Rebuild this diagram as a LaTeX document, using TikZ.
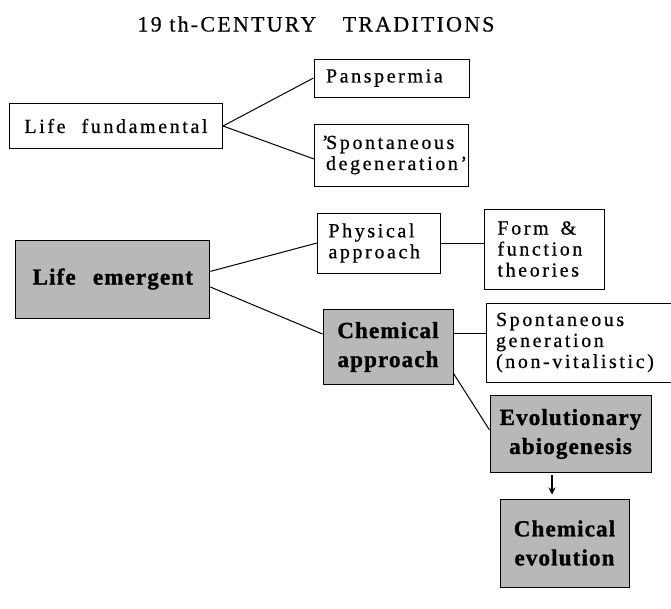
\documentclass[tikz,border=0pt]{standalone}
\usepackage{fontspec}
\setmainfont{Liberation Serif}
\newfontfamily\regf[LetterSpace=13,FakeBold=0.6]{Liberation Serif}
\newfontfamily\heavyf[LetterSpace=5,FakeBold=1.2]{Liberation Serif Bold}
\newfontfamily\titlef[LetterSpace=10,FakeBold=0.4]{Liberation Serif}
\usetikzlibrary{arrows.meta}
\definecolor{halftone}{gray}{0.72}
\begin{document}
\begin{tikzpicture}[x=1pt,y=-1pt,
  wbox/.style={draw, line width=1pt, inner sep=0pt, font=\regf\fontsize{20}{21}\selectfont},
  gbox/.style={draw, line width=1pt, fill=halftone, inner sep=0pt, align=center, font=\heavyf\fontsize{23}{29}\selectfont},
  link/.style={line width=1pt}]
\useasboundingbox (0,0) rectangle (671,608);
\node[font=\titlef\fontsize{22}{24}\selectfont] (title) at (316,24) {19 th-CENTURY\hspace{1.2em}TRADITIONS};
\node[wbox, minimum width=213pt, minimum height=44.5pt, align=center] (lf) at (116,126) {Life\hspace{0.8em}fundamental};
\node[wbox, text width=131pt, inner xsep=12pt, minimum height=38pt, align=left] (pan) at (391.5,78) {Panspermia};
\node[wbox, text width=139pt, inner xsep=7.5pt, minimum height=62pt, align=left] (sd) at (391.5,155) {’\kern-2.5pt Spontaneous\\\hspace*{4pt}degeneration’};
\node[gbox, minimum width=194pt, minimum height=78pt] (le) at (112.8,279) {Life\hspace{0.75em}emergent};
\node[wbox, text width=101pt, inner xsep=11pt, minimum height=60pt, align=left] (ph) at (379,243) {Physical\\approach};
\node[wbox, text width=93pt, inner xsep=13.5pt, minimum height=80pt, align=left] (ff) at (544,249) {Form\hspace{0.6em}\&\\function\\theories};
\node[gbox, minimum width=130pt, minimum height=75pt] (ca) at (388,347) {Chemical\\approach};
\node[wbox, text width=170pt, inner xsep=10pt, minimum height=79pt, align=left] (sg) at (581,342.5) {Spontaneous\\generation\\(non-vitalistic)};
\node[gbox, minimum width=161pt, minimum height=77pt] (ev) at (570.5,434) {Evolutionary\\abiogenesis};
\node[gbox, minimum width=129pt, minimum height=88pt] (ce) at (564.5,543) {Chemical\\evolution};
\draw[link] (lf.east) -- (pan.west);
\draw[link] (lf.east) -- ([yshift=-4pt]sd.west);
\draw[link] ([yshift=7.6pt]le.east) -- (ph.west);
\draw[link] ([yshift=-8pt]le.east) -- ([yshift=13pt]ca.west);
\draw[link] (ph.east) -- (ph.east -| ff.west);
\draw[link] ([yshift=14pt]ca.east) -- ([yshift=14pt]ca.east -| sg.west);
\draw[link] ([yshift=11.6pt]ca.south east) -- ([yshift=4pt]ev.west);
\draw[line width=1.4pt, -{Stealth[length=7pt,width=7pt]}] ([xshift=-18.5pt,yshift=-2pt]ev.south) -- ([xshift=-18.5pt,yshift=4pt]ev.south |- ce.north);
\end{tikzpicture}
\end{document}
